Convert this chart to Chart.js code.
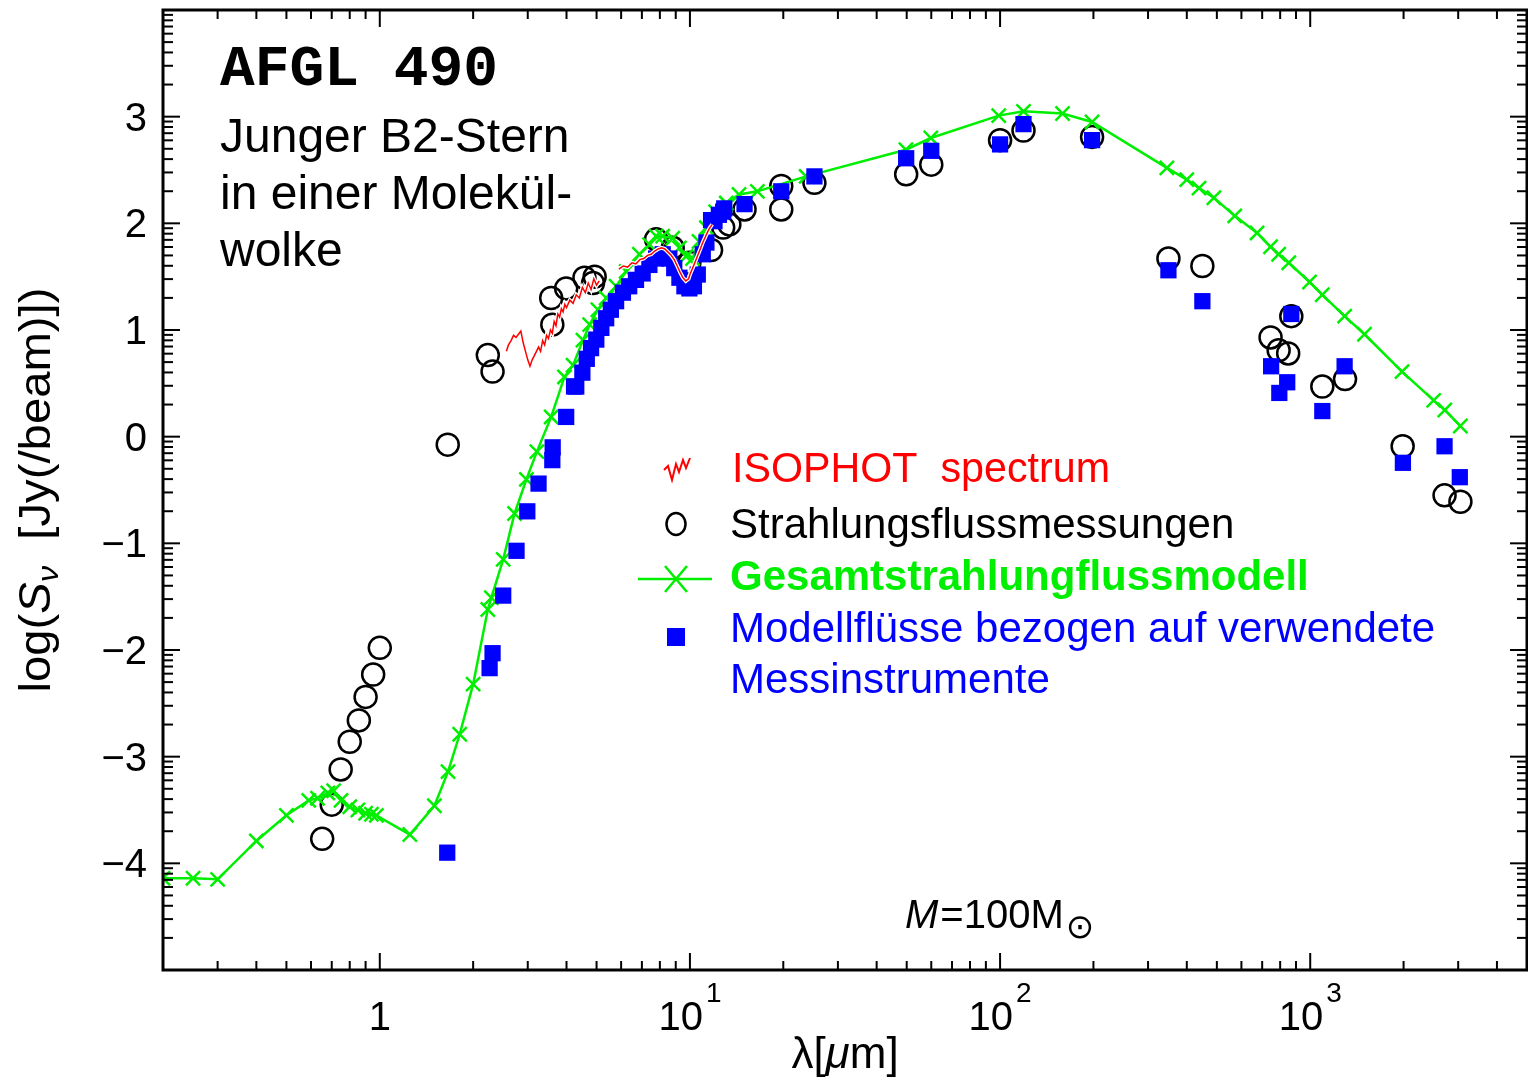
<!DOCTYPE html>
<html><head><meta charset="utf-8">
<script src="https://cdn.jsdelivr.net/npm/chart.js@4.4.1/dist/chart.umd.min.js"></script>
<style>html,body{margin:0;padding:0;background:#fff;overflow:hidden;} #wrap{width:1528px;height:1081px;overflow:hidden;} canvas{display:block;width:1528px;height:1081px;}</style>
</head><body><div id="wrap"><canvas id="c" width="1528" height="1081"></canvas></div>
<script>
// ---- data (wavelength in micron, log flux) ----
const modelLambda = [0.2,0.25,0.30,0.40,0.50,0.59,0.63,0.68,0.71,0.75,0.80,0.85,0.90,0.94,0.975,1.25,1.50,1.66,1.81,2.0,2.23,2.29,2.50,2.72,2.97,3.21,3.57,3.94,4.2,4.52,4.75,5.05,5.37,5.78,6.23,6.87,7.41,7.78,8.17,8.8,9.25,9.72,10.2,10.7,11.3,12.1,13.1,14.4,16.5,23.7,49.7,59.8,99,119,159,198,345,400,438,489,571,674,745,791,853,995,1094,1291,1496,1977,2500,2716,3048];
const modelLogS = [-4.14,-4.14,-4.15,-3.79,-3.55,-3.41,-3.39,-3.34,-3.32,-3.41,-3.47,-3.50,-3.53,-3.54,-3.55,-3.73,-3.46,-3.14,-2.79,-2.32,-1.62,-1.51,-1.15,-0.72,-0.40,-0.14,0.185,0.56,0.67,0.905,1.05,1.19,1.30,1.41,1.55,1.71,1.80,1.88,1.88,1.86,1.77,1.69,1.67,1.83,1.96,2.11,2.19,2.27,2.30,2.44,2.69,2.80,3.01,3.05,3.03,2.95,2.52,2.41,2.33,2.24,2.07,1.91,1.78,1.71,1.63,1.45,1.33,1.13,0.96,0.61,0.34,0.25,0.10];

const measLambda = [0.652,0.70,0.748,0.80,0.856,0.90,0.952,1.0,1.656,2.23,2.31,3.57,3.60,3.99,4.57,4.87,4.93,7.78,8.8,9.96,11.7,12.8,13.4,15.0,19.7,19.7,25.2,49.8,60,100,119,198,349,449,745,791,849,869,1094,1295,1986,2711,3050];
const measLogS = [-3.77,-3.45,-3.12,-2.86,-2.66,-2.44,-2.23,-1.98,-0.075,0.765,0.61,1.30,1.05,1.39,1.49,1.44,1.50,1.85,1.77,1.63,1.75,1.96,1.99,2.13,2.35,2.13,2.38,2.46,2.55,2.78,2.87,2.81,1.67,1.60,0.93,0.81,0.78,1.13,0.47,0.54,-0.09,-0.55,-0.61];

const instLambda = [1.65,2.26,2.31,2.50,2.76,2.99,3.25,3.60,3.61,3.99,4.23,4.30,4.50,4.65,4.80,4.99,5.18,5.37,5.56,5.78,6.08,6.37,6.70,7.04,7.40,7.78,8.17,8.58,8.90,9.25,9.60,9.96,10.3,10.6,11.0,11.3,11.7,12.0,12.4,12.8,12.9,15.0,19.7,25.2,49.8,60,100,119,198,349,449,748,795,843,869,1094,1291,1990,2711,3036];
const instLogS = [-3.90,-2.17,-2.03,-1.49,-1.07,-0.70,-0.44,-0.22,-0.10,0.185,0.47,0.47,0.60,0.73,0.83,0.91,1.02,1.11,1.19,1.27,1.35,1.41,1.47,1.53,1.61,1.67,1.71,1.67,1.58,1.49,1.41,1.39,1.41,1.52,1.71,1.82,2.03,2.02,2.08,2.11,2.14,2.18,2.30,2.44,2.61,2.68,2.74,2.93,2.78,1.56,1.27,0.66,0.41,0.51,1.15,0.24,0.66,-0.245,-0.09,-0.38];

const isoLambda = [2.56,2.60,2.65,2.70,2.75,2.80,2.85,2.90,2.95,3.00,3.05,3.10,3.15,3.20,3.25,3.30,3.35,3.40,3.45,3.50,3.55,3.60,3.65,3.70,3.75,3.80,3.85,3.90,3.95,4.00,4.10,4.20,4.30,4.40,4.50,4.60,4.70,4.80,4.90,5.00,5.10,5.50,5.90,6.10,6.30,6.50,6.70,6.90,7.10,7.30,7.50,7.70,7.90,8.10,8.30,8.50,8.70,8.90,9.10,9.30,9.50,9.70,9.90,10.0,10.2,10.4,10.6,10.8,11.0,11.2,11.4,11.6,11.8];
const isoLogS = [0.80,0.86,0.90,0.95,0.93,0.96,0.99,0.88,0.80,0.72,0.66,0.72,0.76,0.80,0.84,0.80,0.90,0.86,0.95,0.92,1.00,0.97,1.08,1.04,1.15,1.12,1.20,1.17,1.24,1.21,1.28,1.25,1.33,1.30,1.40,1.35,1.44,1.38,1.48,1.42,1.46,null,1.57,1.60,1.59,1.63,1.62,1.66,1.67,1.70,1.71,1.74,1.76,1.77,1.76,1.73,1.70,1.66,1.60,1.54,1.49,1.46,1.48,1.52,1.58,1.64,1.70,1.76,1.82,1.87,1.92,1.96,1.99];

const xTickValues = [1,10,100,1000];
const xTickBase = ['1','10','10','10'];
const xTickExp = ['','1','2','3'];
const yTickValues = [-4,-3,-2,-1,0,1,2,3];
const yTickLabels = ['\u22124','\u22123','\u22122','\u22121','0','1','2','3'];

const toPts = (xs, ys) => xs.map((v,i)=>({x:v, y:ys[i]}));

const FONT = "'Liberation Sans', Arial, sans-serif";
const GREEN = '#00ee00';

function drawParts(ctx, parts, x, y, align, fit){
  let total = 0;
  parts.forEach(p=>{ctx.font=p.f; p.w=ctx.measureText(p.t).width; total += p.w + (p.dx||0);});
  const sx = fit ? fit/total : 1;
  ctx.save(); ctx.translate(x,y); ctx.scale(sx,1);
  let cx = align==='center' ? -total/2 : (align==='right' ? -total : 0);
  ctx.textAlign='left'; ctx.textBaseline='alphabetic';
  parts.forEach(p=>{ctx.font=p.f; ctx.fillStyle=p.c||'#000'; ctx.fillText(p.t, cx+(p.dx||0), p.dy||0); cx += p.w+(p.dx||0);});
  ctx.restore();
}

const framePlugin = {
  id:'frame',
  afterDraw(chart){
    const {ctx, chartArea:a, scales:{x, y}} = chart;
    ctx.save();
    ctx.strokeStyle='#000'; ctx.lineCap='butt';
    ctx.lineWidth=2;
    const line=(x1,y1,x2,y2)=>{ctx.beginPath();ctx.moveTo(x1,y1);ctx.lineTo(x2,y2);ctx.stroke();};
    for (let n=-1;n<=3;n++){
      for (let k=1;k<=9;k++){
        const v=k*Math.pow(10,n);
        if (v<x.min-1e-9 || v>x.max+1e-9) continue;
        const px=x.getPixelForValue(v);
        const L = k===1 ? 17 : 9;
        line(px,a.bottom,px,a.bottom-L);
        line(px,a.top,px,a.top+L);
      }
    }
    for (let n=-5;n<=4;n++){
      for (let k=1;k<=9;k++){
        const v=n+Math.log10(k);
        if (v>y.max+1e-9) continue;
        const py=y.getPixelForValue(v);
        const L = k===1 ? 17 : 10;
        line(a.left,py,a.left+L,py);
        line(a.right,py,a.right-L,py);
      }
    }
    ctx.lineWidth=3;
    ctx.strokeRect(a.left, a.top, a.right-a.left, a.bottom-a.top);

    // tick labels
    ctx.fillStyle='#000';
    xTickValues.forEach((v,i)=>{
      const px=x.getPixelForValue(v);
      const parts=[{t:xTickBase[i], f:'40px '+FONT}];
      if (xTickExp[i]) parts.push({t:xTickExp[i], f:'28px '+FONT, dy:-28, dx:3});
      drawParts(ctx, parts, px, a.bottom+60, 'center');
    });
    yTickValues.forEach((v,i)=>{
      const py=y.getPixelForValue(v);
      drawParts(ctx, [{t:yTickLabels[i], f:'40px '+FONT}], a.left-16, py+14, 'right');
    });

    // axis titles
    drawParts(ctx, [{t:'\u03bb[', f:'44px '+FONT},{t:'\u03bc', f:'italic 44px '+FONT},{t:'m]', f:'44px '+FONT}], (a.left+a.right)/2, 1068, 'center');
    ctx.save();
    ctx.translate(50, (a.top+a.bottom)/2);
    ctx.rotate(-Math.PI/2);
    drawParts(ctx, [{t:'log(', f:'44px '+FONT},{t:'S', f:'italic 44px '+FONT},{t:'\u03bd', f:'italic 30px '+FONT, dy:8},{t:'  [Jy(/beam)])', f:'44px '+FONT}], 0, 0, 'center', 405);
    ctx.restore();

    // annotations
    drawParts(ctx, [{t:'AFGL 490', f:"bold 58px 'Liberation Mono', 'Courier New', monospace"}], 220, 85, 'left', 278);
    drawParts(ctx, [{t:'Junger B2-Stern', f:'48px '+FONT}], 220, 152, 'left');
    drawParts(ctx, [{t:'in einer Molek\u00fcl-', f:'48px '+FONT}], 220, 209, 'left');
    drawParts(ctx, [{t:'wolke', f:'48px '+FONT}], 220, 266, 'left');
    drawParts(ctx, [{t:'M', f:'italic 40px '+FONT},{t:'=100M', f:'40px '+FONT, dx:2},{t:'\u2299', f:"34px 'DejaVu Sans', sans-serif", dy:10, dx:2}], 905, 928, 'left');

    // legend
    drawParts(ctx, [{t:'ISOPHOT  spectrum', f:'42px '+FONT, c:'#ff0000'}], 732, 482, 'left', 378);
    drawParts(ctx, [{t:'Strahlungsflussmessungen', f:'42px '+FONT}], 730, 538, 'left');
    drawParts(ctx, [{t:'Gesamtstrahlungflussmodell', f:'bold 42px '+FONT, c:GREEN}], 730, 590, 'left');
    drawParts(ctx, [{t:'Modellfl\u00fcsse bezogen auf verwendete', f:'42px '+FONT, c:'#0000ff'}], 730, 642, 'left');
    drawParts(ctx, [{t:'Messinstrumente', f:'42px '+FONT, c:'#0000ff'}], 730, 693, 'left');
    // legend symbols
    ctx.strokeStyle='#ff0000'; ctx.lineWidth=2;
    ctx.beginPath();
    [[664,470],[668,466],[672,480],[676,464],[679,472],[683,460],[686,468],[690,458]].forEach((p,i)=> i?ctx.lineTo(p[0],p[1]):ctx.moveTo(p[0],p[1]));
    ctx.stroke();
    ctx.strokeStyle='#000'; ctx.lineWidth=2.5;
    ctx.beginPath(); ctx.ellipse(676,524,9.5,11,0,0,Math.PI*2); ctx.stroke();
    ctx.strokeStyle=GREEN; ctx.lineWidth=2.5;
    line(638,579,712,579);
    line(665,566,687,592); line(665,592,687,566);
    ctx.fillStyle='#0000ff';
    ctx.fillRect(667,628,18,18);
    ctx.restore();
  }
};

new Chart(document.getElementById('c').getContext('2d'), {
  type:'scatter',
  data:{datasets:[
    {label:'ISOPHOT spectrum', data:toPts(isoLambda, isoLogS), showLine:true, borderColor:'#ff0000', borderWidth:1.5, pointRadius:0, spanGaps:false, order:0},
    {label:'halo', data:toPts(isoLambda, isoLogS), showLine:true, borderColor:'#ffffff', borderWidth:4, pointRadius:0, spanGaps:false, order:1},
    {label:'Modellfl\u00fcsse', data:toPts(instLambda, instLogS), pointStyle:'rect', pointRadius:11.5, backgroundColor:'#0000ff', pointBackgroundColor:'#0000ff', pointBorderWidth:0, borderWidth:0, order:2},
    {label:'Gesamtstrahlungflussmodell', data:toPts(modelLambda, modelLogS), showLine:true, borderColor:GREEN, borderWidth:2.5, pointStyle:'crossRot', pointRadius:10, pointBorderColor:GREEN, pointBorderWidth:2.5, order:3},
    {label:'Strahlungsflussmessungen', data:toPts(measLambda, measLogS), pointStyle:'circle', pointRadius:11, pointBorderColor:'#000', pointBorderWidth:2.5, pointBackgroundColor:'rgba(0,0,0,0)', order:4}
  ]},
  options:{
    responsive:false, animation:false, devicePixelRatio:1, events:[],
    layout:{autoPadding:false, padding:{left:163, right:1, top:10, bottom:111}},
    scales:{
      x:{type:'logarithmic', min:0.2, max:5000, display:false},
      y:{type:'linear', min:-5, max:4, display:false}
    },
    plugins:{legend:{display:false}, tooltip:{enabled:false}}
  },
  plugins:[framePlugin]
});
</script></body></html>
